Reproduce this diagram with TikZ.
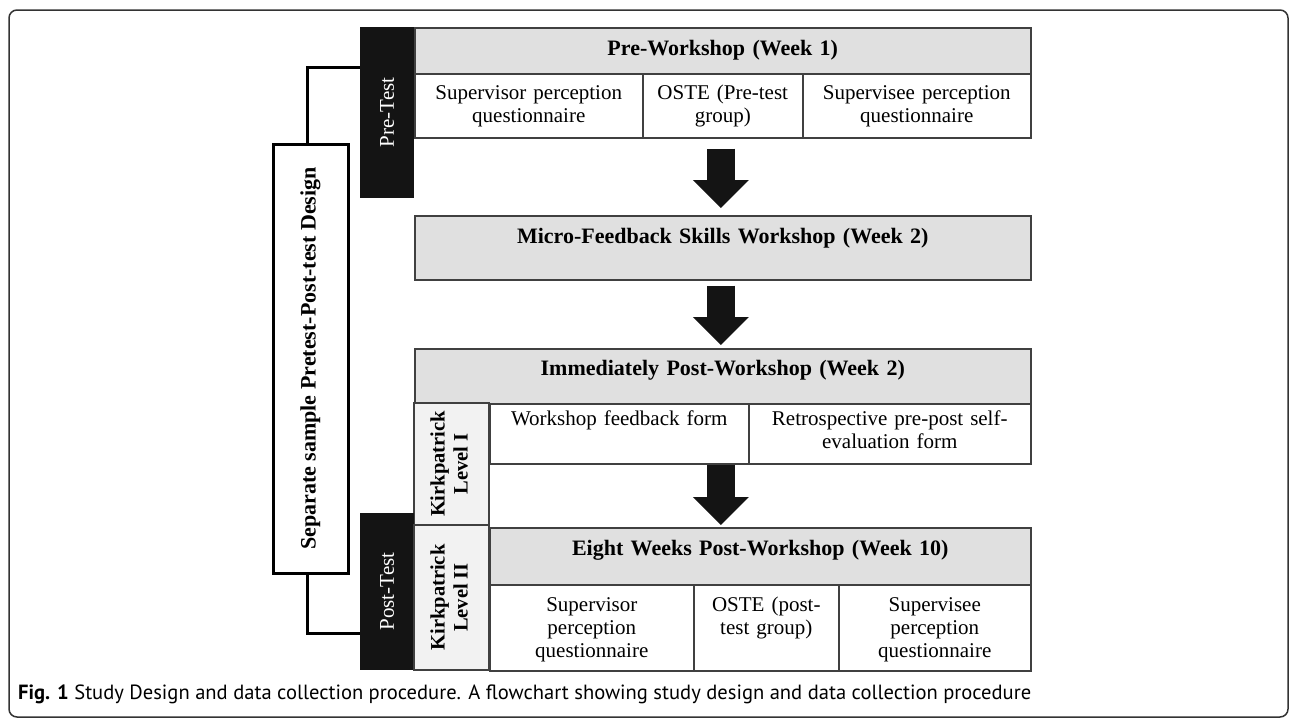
\documentclass[tikz,border=0pt]{standalone}
\usepackage{fontspec}
\usepackage{xcolor}
\usetikzlibrary{arrows.meta,calc}
\setmainfont{Liberation Serif}
\newfontfamily\capfont{PT Sans}

\definecolor{hdrgray}{RGB}{224,224,224}
\definecolor{kpgray}{RGB}{242,242,242}
\definecolor{blk}{RGB}{20,20,20}
\definecolor{linegray}{RGB}{64,64,64}

\tikzset{
    cellbox/.style={draw=linegray, line width=1.5pt, fill=white, anchor=north west,
        inner xsep=4pt, inner ysep=0pt, align=center, font=\fontsize{21}{23}\selectfont},
    headbox/.style={cellbox, fill=hdrgray, font=\bfseries\fontsize{22}{24}\selectfont},
    tagbox/.style={fill=blk, text=white, inner sep=0pt, font=\fontsize{21}{23}\selectfont},
    levelbox/.style={draw=linegray, line width=1.5pt, fill=kpgray, inner sep=0pt,
        font=\bfseries\fontsize{20.5}{23}\selectfont},
    sepbox/.style={draw=black, line width=3pt, fill=white, inner sep=0pt,
        font=\bfseries\fontsize{22}{24}\selectfont},
    link/.style={draw=black, line width=3pt},
    flow/.style={draw=blk, line width=28pt, -{Triangle[length=28pt,width=56pt,line width=0pt]}},
    frame/.style={draw=black!80, line width=1.5pt, rounded corners=8pt}
}

\begin{document}
\begin{tikzpicture}[x=1pt,y=-1pt]
    \useasboundingbox (0,0) rectangle (1295,720);

    % Frame
    \draw[frame] (9,10) rectangle (1288,717);

    % Pre-test
    \node[tagbox, minimum width=54, minimum height=171] (pretest) at (387,112.5) {\rotatebox{90}{Pre-Test}};
    \node[headbox, text width=608, text height=28, text depth=18] (prehead) at (414,27) {Pre-Workshop (Week 1)};
    \node[cellbox, text width=220, text height=26, text depth=38] (supq1) at (414,73) {Supervisor perception\\questionnaire};
    \node[cellbox, text width=152, text height=26, text depth=38] (oste1) at (642,73) {OSTE (Pre-test\\group)};
    \node[cellbox, text width=220, text height=26, text depth=38] (seeq1) at (802,73) {Supervisee perception\\questionnaire};

    % Workshop
    \node[headbox, text width=608, text height=28, text depth=36] (micro) at (414,215) {Micro-Feedback Skills Workshop (Week 2)};

    % Immediately after
    \node[headbox, text width=608, text height=27, text depth=28] (immhead) at (414,348) {Immediately Post-Workshop (Week 2)};
    \node[levelbox, minimum width=75, minimum height=122] (kp1) at (451.5,464)
        {\rotatebox{90}{\begin{tabular}{@{}c@{}}Kirkpatrick\\Level I\end{tabular}}};
    \node[cellbox, text width=251, text height=22, text depth=38] (fbform) at (489,403) {Workshop feedback form};
    \node[cellbox, text width=274, text height=22, text depth=38] (retro) at (748,403) {Retrospective pre-post self-\\evaluation form};

    % Post-test
    \node[tagbox, minimum width=54, minimum height=157] (posttest) at (387,591.5) {\rotatebox{90}{Post-Test}};
    \node[levelbox, minimum width=75, minimum height=145] (kp2) at (451.5,597.5)
        {\rotatebox{90}{\begin{tabular}{@{}c@{}}Kirkpatrick\\Level II\end{tabular}}};
    \node[headbox, text width=533, text height=28, text depth=29] (eighthead) at (489,527) {Eight Weeks Post-Workshop (Week 10)};
    \node[cellbox, text width=196, text height=26.5, text depth=59.5] (supq2) at (489,584) {Supervisor\\perception\\questionnaire};
    \node[cellbox, text width=137, text height=26.5, text depth=59.5] (oste2) at (693,584) {OSTE (post-\\test group)};
    \node[cellbox, text width=184, text height=26.5, text depth=59.5] (seeq2) at (838,584) {Supervisee\\perception\\questionnaire};

    % Design bracket
    \node[sepbox, minimum width=75, minimum height=429] (sep) at (310.5,358.5)
        {\rotatebox{90}{Separate sample Pretest-Post-test Design}};
    \coordinate (prein) at (360,67);
    \coordinate (postin) at (360,633);
    \draw[link] ([xshift=-3.5pt]sep.north) |- (prein);
    \draw[link] ([xshift=-3.5pt]sep.south) |- (postin);

    % Flow arrows
    \draw[flow] ($(prehead.south |- supq1.south)+(-2,10)$) -- ($(micro.north)+(-2,-7)$);
    \draw[flow] ($(micro.south)+(-2,5)$) -- ($(immhead.north)+(-2,-3)$);
    \draw[flow] ($(immhead.south |- fbform.south)+(-2,0)$) -- ($(immhead.south |- eighthead.north)+(-2,-2)$);

    % Caption
    \node[anchor=west, inner sep=0pt] (caption) at (18,694)
        {\resizebox{1013pt}{!}{\capfont\fontsize{17}{20}\selectfont\textbf{Fig. 1} Study Design and data collection procedure. A flowchart showing study design and data collection procedure}};
\end{tikzpicture}
\end{document}
